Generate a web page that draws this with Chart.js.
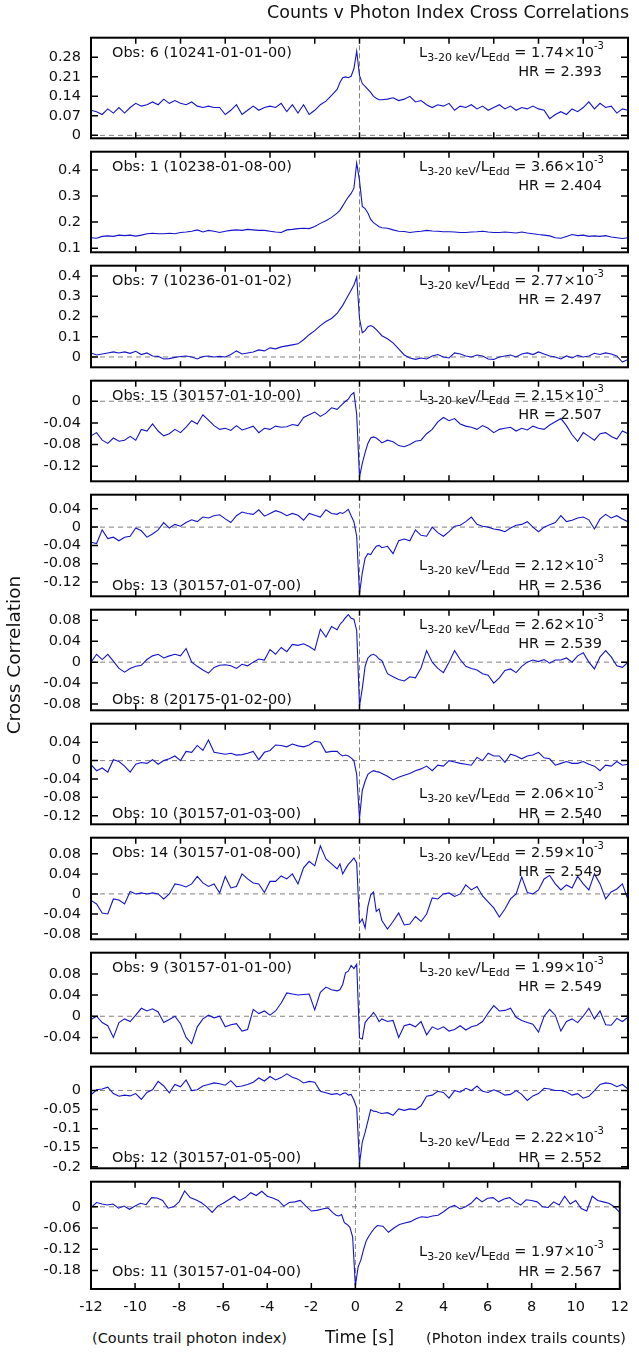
<!DOCTYPE html>
<html>
<head>
<meta charset="utf-8">
<script src="https://cdn.jsdelivr.net/npm/chart.js@4"></script>
<style>
  html, body { margin: 0; padding: 0; background: #fff; }
  body { position: relative; width: 639px; height: 1353px; overflow: hidden; }
  canvas { position: absolute; left: 0; }
  .txt { position: absolute; font-family: "DejaVu Sans", sans-serif; font-size: 14.5px; line-height: 18px; white-space: nowrap; color: #111; }
  .txt sub { font-size: 11px; vertical-align: -4px; line-height: 0; }
  .txt sup { font-size: 10px; vertical-align: 8px; line-height: 0; }
</style>
</head>
<body>
<script>
// time lags [s]: 0.25 s steps, 0.125 s steps between -1 and 1
const times = [
  -12, -11.75, -11.5, -11.25, -11, -10.75, -10.5, -10.25, -10, -9.75, -9.5,
  -9.25, -9, -8.75, -8.5, -8.25, -8, -7.75, -7.5, -7.25, -7, -6.75,
  -6.5, -6.25, -6, -5.75, -5.5, -5.25, -5, -4.75, -4.5, -4.25, -4,
  -3.75, -3.5, -3.25, -3, -2.75, -2.5, -2.25, -2, -1.75, -1.5, -1.25,
  -1, -0.875, -0.75, -0.625, -0.5, -0.375, -0.25, -0.125, 0, 0.125, 0.25, 0.375, 0.5, 0.625, 0.75, 0.875, 1,
  1.25, 1.5, 1.75, 2, 2.25, 2.5, 2.75, 3, 3.25, 3.5, 3.75,
  4, 4.25, 4.5, 4.75, 5, 5.25, 5.5, 5.75, 6, 6.25, 6.5,
  6.75, 7, 7.25, 7.5, 7.75, 8, 8.25, 8.5, 8.75, 9, 9.25,
  9.5, 9.75, 10, 10.25, 10.5, 10.75, 11, 11.25, 11.5, 11.75, 12
];
const timeTicks = [-12, -10, -8, -6, -4, -2, 0, 2, 4, 6, 8, 10, 12];

const obs6 = [
  0.09, 0.085, 0.075, 0.095, 0.08, 0.10, 0.08, 0.10, 0.115, 0.105, 0.11,
  0.12, 0.11, 0.13, 0.115, 0.125, 0.115, 0.11, 0.12, 0.105, 0.10, 0.105,
  0.10, 0.10, 0.075, 0.09, 0.11, 0.075, 0.09, 0.105, 0.09, 0.10, 0.105,
  0.10, 0.115, 0.085, 0.11, 0.08, 0.11, 0.075, 0.09, 0.11, 0.123, 0.144,
  0.165, 0.19, 0.207, 0.21, 0.207, 0.212, 0.239, 0.302, 0.215, 0.186, 0.176, 0.165, 0.154, 0.14, 0.133, 0.128, 0.128,
  0.13, 0.135, 0.125, 0.13, 0.14, 0.12, 0.125, 0.11, 0.10, 0.11, 0.105,
  0.115, 0.09, 0.105, 0.10, 0.11, 0.095, 0.105, 0.09, 0.10, 0.11, 0.095,
  0.105, 0.09, 0.10, 0.095, 0.105, 0.095, 0.09, 0.06, 0.075, 0.085, 0.075,
  0.095, 0.085, 0.10, 0.12, 0.095, 0.115, 0.10, 0.105, 0.08, 0.095, 0.09
];
const obs1 = [
  0.14, 0.138, 0.145, 0.147, 0.145, 0.15, 0.148, 0.15, 0.146, 0.15, 0.155,
  0.157, 0.155, 0.155, 0.157, 0.155, 0.16, 0.162, 0.165, 0.17, 0.162, 0.168,
  0.165, 0.16, 0.165, 0.168, 0.17, 0.168, 0.172, 0.17, 0.168, 0.168, 0.165,
  0.162, 0.16, 0.17, 0.172, 0.175, 0.176, 0.175, 0.183, 0.195, 0.205, 0.218,
  0.234, 0.245, 0.262, 0.28, 0.296, 0.31, 0.33, 0.426, 0.36, 0.26, 0.252, 0.235, 0.21, 0.198, 0.19, 0.182, 0.178,
  0.176, 0.17, 0.165, 0.164, 0.16, 0.163, 0.165, 0.168, 0.166, 0.165, 0.163,
  0.163, 0.162, 0.16, 0.16, 0.162, 0.163, 0.165, 0.162, 0.16, 0.16, 0.162,
  0.16, 0.158, 0.162, 0.158, 0.155, 0.152, 0.15, 0.147, 0.14, 0.138, 0.145,
  0.152, 0.148, 0.15, 0.145, 0.147, 0.145, 0.148, 0.143, 0.14, 0.137, 0.14
];
const obs7 = [
  0.02, 0.01, 0.015, 0.02, 0.025, 0.02, 0.025, 0.018, 0.028, 0.012, 0.02,
  0.005, 0.003, -0.01, -0.008, -0.002, 0.002, 0.005, 0.0, -0.01, 0.002, 0.005,
  0.0, 0.003, 0.0, 0.012, 0.03, 0.015, 0.02, 0.025, 0.035, 0.03, 0.045,
  0.04, 0.05, 0.055, 0.06, 0.065, 0.085, 0.11, 0.13, 0.155, 0.175, 0.19,
  0.215, 0.235, 0.255, 0.28, 0.305, 0.33, 0.355, 0.395, 0.19, 0.12, 0.13, 0.15, 0.155, 0.148, 0.135, 0.12, 0.105,
  0.09, 0.07, 0.04, 0.01, -0.005, -0.012, -0.005, -0.01, 0.005, 0.012, 0.0,
  -0.005, 0.02, 0.015, 0.005, 0.0, 0.01, 0.005, -0.01, -0.012, 0.0, 0.005,
  0.01, 0.0, 0.015, 0.02, 0.012, 0.025, 0.015, 0.005, 0.0, -0.01, 0.005,
  -0.005, 0.008, 0.0, 0.005, 0.018, 0.012, 0.02, 0.015, 0.005, -0.025, -0.012
];
const obs15 = [
  -0.064, -0.058, -0.072, -0.078, -0.068, -0.074, -0.072, -0.065, -0.072, -0.052, -0.055,
  -0.042, -0.055, -0.064, -0.06, -0.052, -0.058, -0.048, -0.036, -0.042, -0.025, -0.035,
  -0.045, -0.052, -0.05, -0.054, -0.045, -0.053, -0.05, -0.046, -0.058, -0.05, -0.052,
  -0.046, -0.048, -0.047, -0.043, -0.045, -0.03, -0.025, -0.02, -0.028, -0.022, -0.012,
  -0.015, -0.01, -0.005, 0.0, 0.004, 0.012, 0.016, -0.025, -0.14, -0.115, -0.095, -0.078, -0.068, -0.066, -0.068, -0.072, -0.077,
  -0.072, -0.075, -0.082, -0.084, -0.08, -0.074, -0.072, -0.06, -0.052, -0.038, -0.03,
  -0.036, -0.032, -0.042, -0.046, -0.048, -0.052, -0.045, -0.05, -0.058, -0.052, -0.05,
  -0.048, -0.055, -0.05, -0.053, -0.046, -0.05, -0.052, -0.044, -0.038, -0.032, -0.045,
  -0.062, -0.074, -0.058, -0.065, -0.072, -0.06, -0.058, -0.065, -0.07, -0.055, -0.06
];
const obs13 = [
  -0.033, -0.036, -0.006, -0.025, -0.022, -0.03, -0.022, -0.02, -0.002, -0.008, -0.022,
  -0.015, -0.006, 0.01, -0.002, 0.006, 0.002, 0.01, 0.016, 0.012, 0.022, 0.02,
  0.025, 0.027, 0.018, 0.01, 0.025, 0.033, 0.03, 0.028, 0.038, 0.024, 0.03,
  0.036, 0.032, 0.025, 0.03, 0.026, 0.015, 0.03, 0.026, 0.022, 0.038, 0.03,
  0.028, 0.032, 0.03, 0.034, 0.039, 0.025, 0.012, -0.02, -0.146, -0.1, -0.068, -0.058, -0.06, -0.05, -0.042, -0.04, -0.045,
  -0.042, -0.058, -0.03, -0.026, -0.03, -0.006, -0.018, -0.02, 0.0, -0.012, -0.02,
  -0.01, 0.002, 0.004, 0.012, 0.022, 0.006, 0.002, 0.0, -0.004, -0.006, -0.01,
  -0.002, 0.004, 0.006, 0.012, 0.0, -0.01, 0.0, 0.005, 0.01, 0.025, 0.012,
  0.015, 0.02, 0.022, 0.016, -0.004, 0.018, 0.028, 0.02, 0.025, 0.018, 0.012
];
const obs8 = [
  0.0, 0.015, 0.005, 0.015, 0.002, -0.012, -0.019, -0.012, -0.008, -0.006, 0.005,
  0.012, 0.015, 0.008, 0.012, 0.015, 0.012, 0.026, 0.0, -0.008, -0.015, -0.021,
  -0.01, -0.006, -0.005, -0.007, -0.012, -0.004, -0.007, 0.0, 0.006, 0.004, 0.024,
  0.015, 0.028, 0.02, 0.034, 0.032, 0.035, 0.03, 0.023, 0.063, 0.048, 0.068,
  0.062, 0.072, 0.078, 0.085, 0.091, 0.084, 0.082, 0.06, -0.084, -0.05, -0.008, 0.008, 0.013, 0.015, 0.012, 0.006, 0.003,
  -0.022, -0.028, -0.033, -0.036, -0.028, -0.03, -0.011, 0.022, 0.0, -0.012, -0.02,
  0.0, 0.022, 0.005, -0.008, -0.012, -0.015, -0.022, -0.025, -0.04, -0.03, -0.016,
  -0.013, -0.02, -0.008, 0.0, 0.004, 0.001, 0.005, -0.002, 0.004, 0.004, 0.008,
  0.0, 0.012, 0.018, 0.0, -0.013, 0.01, 0.022, 0.01, -0.007, -0.01, 0.0
];
const obs10 = [
  -0.009, -0.022, -0.016, -0.025, 0.002, -0.002, -0.012, -0.025, -0.008, -0.004, -0.006,
  0.002, -0.008, 0.0, 0.004, 0.01, 0.0, 0.02, 0.018, 0.033, 0.022, 0.045,
  0.018, 0.016, 0.014, 0.016, 0.012, 0.013, 0.016, 0.02, 0.002, 0.018, 0.022,
  0.034, 0.033, 0.03, 0.036, 0.032, 0.03, 0.034, 0.042, 0.04, 0.018, 0.02,
  0.02, 0.014, 0.01, 0.012, 0.01, 0.006, 0.0, -0.03, -0.126, -0.065, -0.045, -0.03, -0.025, -0.022, -0.024, -0.025, -0.028,
  -0.034, -0.042, -0.036, -0.032, -0.028, -0.022, -0.018, -0.012, -0.022, -0.01, -0.012,
  0.0, -0.003, -0.006, -0.008, -0.01, 0.007, 0.0, 0.016, 0.01, 0.01, -0.004,
  0.014, 0.01, 0.004, 0.01, 0.012, 0.018, 0.006, 0.004, -0.01, -0.006, -0.002,
  -0.006, -0.006, -0.002, -0.008, -0.012, -0.022, -0.01, -0.012, -0.002, -0.01, -0.008
];
const obs14 = [
  -0.013, -0.02, -0.038, -0.04, -0.01, -0.012, -0.02, 0.005, 0.0, 0.002, 0.0,
  0.002, 0.0, -0.01, 0.0, 0.02, 0.018, 0.014, 0.02, 0.035, 0.022, 0.015,
  0.02, 0.002, 0.035, 0.012, 0.015, 0.04, 0.03, 0.022, 0.02, 0.003, 0.025,
  0.025, 0.036, 0.03, 0.04, 0.02, 0.052, 0.065, 0.056, 0.096, 0.07, 0.06,
  0.05, 0.06, 0.04, 0.05, 0.059, 0.065, 0.072, 0.062, -0.058, -0.05, -0.068, -0.025, -0.002, 0.004, -0.035, -0.03, -0.053,
  -0.07, -0.055, -0.038, -0.062, -0.06, -0.045, -0.055, -0.04, -0.008, -0.01, 0.0,
  0.002, -0.005, 0.0, 0.018, 0.008, 0.015, -0.004, -0.016, -0.028, -0.046, -0.03,
  -0.01, 0.0, 0.034, 0.003, 0.0, 0.008, 0.03, 0.037, 0.02, 0.008, 0.018,
  0.012, 0.035, 0.02, 0.008, 0.04, 0.02, -0.01, 0.004, 0.01, 0.02, -0.012
];
const obs9 = [
  -0.006, 0.0, -0.012, -0.018, -0.04, -0.012, -0.005, -0.01, 0.002, 0.015, 0.01,
  0.014, 0.008, -0.012, -0.006, 0.0, -0.014, -0.04, -0.052, -0.02, -0.005, 0.002,
  -0.003, 0.0, -0.02, -0.016, -0.014, -0.028, -0.025, 0.013, 0.005, 0.01, 0.002,
  0.01, 0.025, 0.044, 0.042, 0.04, 0.041, 0.042, 0.012, 0.045, 0.055, 0.05,
  0.048, 0.05, 0.06, 0.082, 0.085, 0.096, 0.09, 0.098, -0.041, -0.043, -0.012, -0.005, 0.0, 0.007, 0.0, -0.01, -0.005,
  -0.01, -0.008, -0.04, -0.018, -0.015, -0.02, -0.01, -0.035, -0.02, -0.025, -0.02,
  -0.028, -0.025, -0.018, -0.026, -0.02, -0.017, -0.01, 0.006, 0.02, 0.01, 0.011,
  0.015, -0.002, -0.008, -0.012, -0.015, -0.03, 0.0, 0.013, 0.002, -0.028, -0.01,
  -0.005, -0.012, 0.0, 0.015, -0.005, 0.01, -0.016, -0.017, -0.004, -0.01, -0.002
];
const obs12 = [
  -0.011, 0.002, 0.004, 0.009, -0.008, -0.015, -0.012, -0.014, -0.008, -0.023, -0.005,
  0.002, 0.024, 0.012, -0.006, 0.016, 0.01, 0.028, 0.0, 0.002, 0.012, 0.016,
  0.02, 0.018, 0.014, 0.026, 0.01, 0.012, 0.016, 0.022, 0.033, 0.025, 0.037,
  0.028, 0.034, 0.044, 0.035, 0.03, 0.02, 0.024, 0.022, -0.002, -0.006, -0.01,
  -0.008, -0.012, -0.008, -0.006, -0.012, -0.01, -0.025, -0.045, -0.192, -0.135, -0.11, -0.08, -0.05, -0.054, -0.055, -0.058, -0.06,
  -0.058, -0.065, -0.048, -0.052, -0.048, -0.05, -0.04, -0.015, -0.012, -0.002, -0.005,
  -0.02, 0.0, -0.004, 0.006, 0.0, 0.012, -0.002, -0.005, 0.002, -0.004, -0.012,
  -0.01, 0.0, -0.01, -0.026, -0.014, -0.008, 0.006, 0.004, 0.0, 0.0, -0.004,
  -0.012, -0.008, -0.02, -0.015, 0.0, 0.016, 0.02, 0.018, 0.01, 0.016, 0.004
];
const obs11 = [
  -0.002, 0.012, 0.008, 0.005, 0.008, -0.004, 0.002, -0.007, 0.002, 0.01, 0.006,
  0.026, 0.025, 0.018, -0.004, 0.0, 0.014, 0.045, 0.026, 0.02, 0.012, 0.0,
  -0.016, 0.002, 0.01, 0.02, 0.03, 0.018, 0.026, 0.04, 0.032, 0.044, 0.03,
  0.025, 0.018, 0.002, 0.012, 0.014, 0.018, 0.002, -0.012, -0.01, -0.006, -0.003,
  -0.018, -0.024, -0.026, -0.022, -0.045, -0.05, -0.058, -0.085, -0.224, -0.17, -0.15, -0.12, -0.095, -0.082, -0.07, -0.06, -0.053,
  -0.055, -0.072, -0.06, -0.05, -0.046, -0.042, -0.034, -0.028, -0.03, -0.026, -0.024,
  -0.014, -0.002, 0.004, -0.006, 0.0, 0.01, 0.026, 0.014, 0.024, 0.026, 0.014,
  0.022, 0.026, 0.014, 0.005, 0.02, 0.018, 0.014, 0.0, -0.002, 0.014, 0.005,
  0.03, 0.008, 0.018, -0.005, -0.012, 0.03, 0.018, 0.014, 0.01, 0.0, -0.016
];

const obsLabels = ['Obs: 6 (10241-01-01-00)', 'Obs: 1 (10238-01-08-00)', 'Obs: 7 (10236-01-01-02)',
  'Obs: 15 (30157-01-10-00)', 'Obs: 13 (30157-01-07-00)', 'Obs: 8 (20175-01-02-00)',
  'Obs: 10 (30157-01-03-00)', 'Obs: 14 (30157-01-08-00)', 'Obs: 9 (30157-01-01-00)',
  'Obs: 12 (30157-01-05-00)', 'Obs: 11 (30157-01-04-00)'];
const lumValues = ['1.74', '3.66', '2.77', '2.15', '2.12', '2.62', '2.06', '2.59', '1.99', '2.22', '1.97'];
const hrValues = ['2.393', '2.404', '2.497', '2.507', '2.536', '2.539', '2.540', '2.549', '2.549', '2.552', '2.567'];
const series = [obs6, obs1, obs7, obs15, obs13, obs8, obs10, obs14, obs9, obs12, obs11];
const yTicks = [
  [0, 0.07, 0.14, 0.21, 0.28],
  [0.1, 0.2, 0.3, 0.4],
  [0, 0.1, 0.2, 0.3, 0.4],
  [-0.12, -0.08, -0.04, 0],
  [-0.12, -0.08, -0.04, 0, 0.04],
  [-0.08, -0.04, 0, 0.04, 0.08],
  [-0.12, -0.08, -0.04, 0, 0.04],
  [-0.08, -0.04, 0, 0.04, 0.08],
  [-0.04, 0, 0.04, 0.08],
  [-0.2, -0.15, -0.1, -0.05, 0],
  [-0.18, -0.12, -0.06, 0]
];
const yRanges = [
  [-0.0105, 0.3506], [0.084, 0.470], [-0.051, 0.451], [-0.148, 0.038],
  [-0.1515, 0.071], [-0.092, 0.1002], [-0.1386, 0.0803], [-0.0906, 0.1123],
  [-0.07, 0.12], [-0.204, 0.0626], [-0.2325, 0.071]
];
// where the obs label / luminosity label sit in each panel
const obsAt = ['top', 'top', 'top', 'top', 'bottom', 'bottom', 'bottom', 'top', 'top', 'bottom', 'bottom'];
const lumAt = ['top', 'top', 'top', 'top', 'bottom', 'top', 'bottom', 'top', 'top', 'bottom', 'bottom'];

const panelTops = [31, 145, 259, 374, 488, 603, 717, 831, 946, 1060, 1175, 1289];
const PAD = 12;
const FONT = { family: '"DejaVu Sans", sans-serif', size: 14.5 };

const framePlugin = {
  id: 'frame',
  afterDraw(chart) {
    const { ctx, chartArea: a } = chart;
    const x = chart.scales.x, y = chart.scales.y;
    ctx.save();
    ctx.strokeStyle = '#000';
    ctx.lineWidth = 1.5;
    ctx.beginPath();
    timeTicks.forEach(v => {
      const px = x.getPixelForValue(v);
      ctx.moveTo(px, a.top); ctx.lineTo(px, a.top + 6);
      ctx.moveTo(px, a.bottom); ctx.lineTo(px, a.bottom - 6);
    });
    y.ticks.forEach(t => {
      const py = y.getPixelForValue(t.value);
      ctx.moveTo(a.left, py); ctx.lineTo(a.left + 7, py);
      ctx.moveTo(a.right, py); ctx.lineTo(a.right - 7, py);
    });
    ctx.stroke();
    ctx.lineWidth = 2;
    ctx.strokeRect(a.left, a.top, a.right - a.left, a.bottom - a.top);
    ctx.restore();
  }
};

function addText(html, css) {
  const d = document.createElement('div');
  d.className = 'txt';
  d.innerHTML = html;
  Object.assign(d.style, css);
  document.body.appendChild(d);
  return d;
}

series.forEach((vals, i) => {
  const top = panelTops[i], bottom = panelTops[i + 1];
  const last = i === series.length - 1;
  const axisH = last ? 32 : 0;
  const [ymin, ymax] = yRanges[i];
  const canvas = document.createElement('canvas');
  canvas.width = 639;
  canvas.height = (bottom - top) + PAD + (last ? axisH : PAD);
  canvas.style.top = (top - PAD) + 'px';
  document.body.appendChild(canvas);

  const datasets = [{
    data: times.map((t, k) => ({ x: t, y: vals[k] })),
    borderColor: '#1414c8', borderWidth: 1.1, pointRadius: 0
  }];
  if (ymin < 0 && ymax > 0) {
    datasets.push({
      data: [{ x: -12, y: 0 }, { x: 12, y: 0 }],
      borderColor: '#808080', borderWidth: 1, borderDash: [5, 4], pointRadius: 0
    });
  }
  datasets.push({
    data: [{ x: 0, y: ymin }, { x: 0, y: ymax }],
    borderColor: '#808080', borderWidth: 1, borderDash: [5, 3], pointRadius: 0
  });

  new Chart(canvas, {
    type: 'line',
    data: { datasets },
    options: {
      responsive: false,
      animation: false,
      devicePixelRatio: 1,
      layout: { padding: { top: PAD, bottom: last ? 0 : PAD, left: 0, right: 11 } },
      plugins: { legend: { display: false }, tooltip: { enabled: false } },
      scales: {
        x: {
          type: 'linear', min: -12, max: 12, display: last,
          afterBuildTicks: s => { s.ticks = timeTicks.map(v => ({ value: v })); },
          afterFit: s => { s.height = axisH; },
          grid: { display: false, drawTicks: false },
          border: { display: false },
          ticks: { padding: 10, font: FONT, color: '#111', maxRotation: 0, autoSkip: false, callback: v => String(v) }
        },
        y: {
          type: 'linear', min: ymin, max: ymax,
          afterBuildTicks: s => { s.ticks = yTicks[i].map(v => ({ value: v })); },
          afterFit: s => { s.width = 91; },
          grid: { display: false, drawTicks: false },
          border: { display: false },
          ticks: { padding: 10, font: FONT, color: '#111', callback: v => String(v) }
        }
      }
    },
    plugins: [framePlugin]
  });

  const obsY = obsAt[i] === 'top' ? top + 20.5 : bottom - 18.5;
  addText(obsLabels[i], { left: '112px', top: (obsY - 9) + 'px' });
  const lumY = lumAt[i] === 'top' ? top + 21 : bottom - 38.5;
  const hrY = lumAt[i] === 'top' ? top + 40 : bottom - 18.3;
  addText('L<sub>3-20 keV</sub>/L<sub>Edd</sub> = ' + lumValues[i] + '&times;10<sup>-3</sup>', { right: '35px', top: (lumY - 9) + 'px' });
  addText('HR = ' + hrValues[i], { right: '37px', top: (hrY - 9) + 'px' });
});

addText('Counts v Photon Index Cross Correlations', { right: '10px', top: '3px', fontSize: '17.5px' });
addText('Cross Correlation', { left: '-136px', top: '646px', width: '300px', textAlign: 'center', fontSize: '18.5px', transform: 'rotate(-90deg)' });
addText('(Counts trail photon index)', { left: '92px', top: '1329px', fontSize: '14.5px' });
addText('Time [s]', { left: '259.5px', width: '200px', textAlign: 'center', top: '1328px', fontSize: '17px' });
addText('(Photon index trails counts)', { right: '13px', top: '1329px', fontSize: '14.5px' });
</script>
</body>
</html>
